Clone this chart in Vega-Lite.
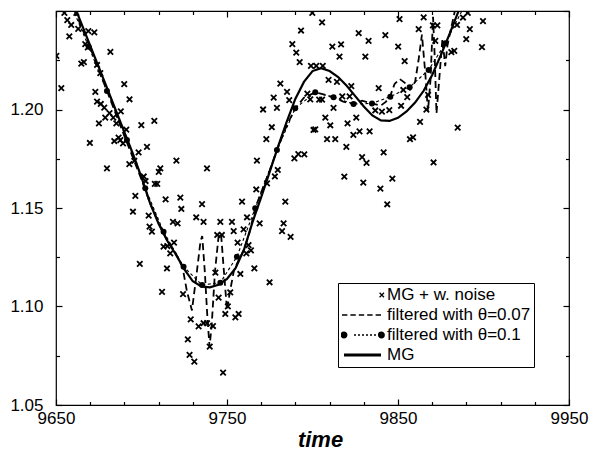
{
  "$schema": "https://vega.github.io/schema/vega-lite/v6.json",
  "width": 513,
  "height": 394,
  "autosize": {"type": "none"},
  "padding": {"left": 56, "top": 11, "right": 23, "bottom": 47},
  "background": "white",
  "config": {
    "view": {"stroke": "black", "strokeWidth": 1.2},
    "axis": {"domain": false, "grid": false, "tickColor": "black", "tickWidth": 1.2, "labelColor": "black", "labelFont": "Liberation Sans", "labelFontSize": 17, "labelFlush": false, "labelOverlap": false},
    "legend": {"labelFont": "Liberation Sans", "labelFontSize": 17, "labelColor": "black"}
  },
  "datasets": {
    "noise": [
      {"t":9654.9,"v":1.249},{"t":9661.9,"v":1.249},{"t":9656.6,"v":1.2454},{"t":9658.9,"v":1.2429},{"t":9663.0,"v":1.2409},{"t":9668.9,"v":1.2398},{"t":9672.4,"v":1.2391},{"t":9657.8,"v":1.2371},{"t":9667.1,"v":1.2332},{"t":9668.6,"v":1.2315},
      {"t":9650.2,"v":1.2272},{"t":9681.8,"v":1.2292},{"t":9664.8,"v":1.2233},{"t":9666.3,"v":1.2241},{"t":9674.0,"v":1.2226},{"t":9675.9,"v":1.2185},{"t":9653.1,"v":1.2109},{"t":9689.9,"v":1.2129},{"t":9673.0,"v":1.2089},{"t":9693.0,"v":1.2052},
      {"t":9674.0,"v":1.2040},{"t":9676.2,"v":1.2028},{"t":9678.2,"v":1.2009},{"t":9681.3,"v":1.1982},{"t":9678.8,"v":1.1959},{"t":9683.5,"v":1.1959},{"t":9687.9,"v":1.1991},{"t":9685.3,"v":1.1930},{"t":9675.1,"v":1.1930},{"t":9699.9,"v":1.1921},
      {"t":9707.5,"v":1.1942},{"t":9691.1,"v":1.1898},{"t":9686.6,"v":1.1857},{"t":9684.1,"v":1.1840},{"t":9687.6,"v":1.1845},{"t":9689.2,"v":1.1828},{"t":9669.8,"v":1.1830},{"t":9703.2,"v":1.1810},{"t":9698.3,"v":1.1782},{"t":9695.8,"v":1.1739},
      {"t":9692.9,"v":1.1723},{"t":9720.4,"v":1.1740},{"t":9679.8,"v":1.1701},{"t":9711.0,"v":1.1701},{"t":9710.1,"v":1.1683},{"t":9701.3,"v":1.1660},{"t":9702.4,"v":1.1637},{"t":9707.8,"v":1.1622},{"t":9709.2,"v":1.1622},{"t":9696.4,"v":1.1562},
      {"t":9714.1,"v":1.1544},{"t":9722.7,"v":1.1553},{"t":9723.3,"v":1.1495},{"t":9695.0,"v":1.1481},{"t":9735.4,"v":1.1520},{"t":9738.3,"v":1.1701},{"t":9704.2,"v":1.1461},{"t":9732.0,"v":1.1453},{"t":9736.3,"v":1.1430},{"t":9718.4,"v":1.1430},
      {"t":9721.1,"v":1.1422},{"t":9704.7,"v":1.1405},{"t":9706.1,"v":1.1380},{"t":9699.0,"v":1.1216},{"t":9712.9,"v":1.1304},{"t":9715.1,"v":1.1307},{"t":9719.0,"v":1.1324},{"t":9716.8,"v":1.1270},{"t":9714.9,"v":1.1193},{"t":9712.0,"v":1.1074},
      {"t":9724.3,"v":1.1063},{"t":9728.8,"v":1.0935},{"t":9727.1,"v":1.0833},{"t":9728.1,"v":1.0754},{"t":9730.9,"v":1.0720},{"t":9733.4,"v":1.0899},{"t":9736.3,"v":1.0915},{"t":9738.3,"v":1.0915},{"t":9741.8,"v":1.0901},{"t":9739.9,"v":1.0796},
      {"t":9743.2,"v":1.1172},{"t":9744.3,"v":1.1363},{"t":9747.0,"v":1.1363},{"t":9746.1,"v":1.1430},{"t":9752.9,"v":1.1430},{"t":9753.9,"v":1.1383},{"t":9758.8,"v":1.1532},{"t":9761.7,"v":1.1453},{"t":9759.7,"v":1.1392},{"t":9756.2,"v":1.1324},
      {"t":9762.6,"v":1.1312},{"t":9764.0,"v":1.1285},{"t":9761.3,"v":1.1270},{"t":9766.0,"v":1.1194},{"t":9757.8,"v":1.1165},{"t":9774.9,"v":1.1123},{"t":9751.9,"v":1.1072},{"t":9745.1,"v":1.1045},{"t":9750.5,"v":1.1001},{"t":9749.0,"v":1.0962},
      {"t":9756.8,"v":1.0962},{"t":9754.9,"v":1.0945},{"t":9747.7,"v":1.0664},{"t":9769.1,"v":1.1422},{"t":9783.1,"v":1.1422},{"t":9782.2,"v":1.1383},{"t":9787.2,"v":1.1353},{"t":9784.1,"v":1.1532},{"t":9767.5,"v":1.1740},{"t":9773.0,"v":1.1850},
      {"t":9776.2,"v":1.1910},{"t":9771.1,"v":1.2000},{"t":9777.3,"v":1.2060},{"t":9779.2,"v":1.2008},{"t":9781.2,"v":1.2131},{"t":9785.1,"v":1.2089},{"t":9786.4,"v":1.2048},{"t":9788.2,"v":1.2332},{"t":9790.5,"v":1.2289},{"t":9792.5,"v":1.2240},
      {"t":9793.3,"v":1.2401},{"t":9799.9,"v":1.249},{"t":9789.4,"v":1.1752},{"t":9791.7,"v":1.1773},{"t":9795.2,"v":1.1772},{"t":9779.7,"v":1.1693},{"t":9778.0,"v":1.1660},{"t":9773.4,"v":1.1625},{"t":9767.1,"v":1.1594},{"t":9797.0,"v":1.2081},
      {"t":9798.7,"v":1.2051},{"t":9800.6,"v":1.1896},{"t":9805.6,"v":1.2442},{"t":9799.1,"v":1.2221},{"t":9802.2,"v":1.2221},{"t":9806.0,"v":1.2221},{"t":9811.6,"v":1.2319},{"t":9816.7,"v":1.2331},{"t":9815.8,"v":1.2268},{"t":9827.0,"v":1.2388},
      {"t":9832.8,"v":1.2348},{"t":9830.9,"v":1.2268},{"t":9842.6,"v":1.2378},{"t":9850.9,"v":1.2459},{"t":9850.1,"v":1.2319},{"t":9853.9,"v":1.2246},{"t":9865.0,"v":1.2468},{"t":9862.1,"v":1.2408},{"t":9870.4,"v":1.2427},{"t":9873.0,"v":1.2427},
      {"t":9871.8,"v":1.2348},{"t":9809.4,"v":1.2150},{"t":9814.3,"v":1.2140},{"t":9822.7,"v":1.2119},{"t":9838.7,"v":1.2108},{"t":9803.9,"v":1.2050},{"t":9805.6,"v":1.2050},{"t":9817.4,"v":1.2067},{"t":9821.7,"v":1.2067},{"t":9812.3,"v":1.2008},
      {"t":9836.7,"v":1.1995},{"t":9840.6,"v":1.1989},{"t":9844.9,"v":1.1997},{"t":9851.8,"v":1.2019},{"t":9853.1,"v":1.2099},{"t":9855.4,"v":1.2063},{"t":9867.6,"v":1.2074},{"t":9866.6,"v":1.1999},{"t":9862.9,"v":1.1937},{"t":9807.5,"v":1.1959},
      {"t":9810.4,"v":1.1920},{"t":9801.6,"v":1.1899},{"t":9820.5,"v":1.1930},{"t":9825.6,"v":1.1959},{"t":9808.5,"v":1.1850},{"t":9813.3,"v":1.1850},{"t":9823.9,"v":1.1871},{"t":9827.5,"v":1.1889},{"t":9833.4,"v":1.1889},{"t":9819.8,"v":1.1810},
      {"t":9829.0,"v":1.1758},{"t":9831.6,"v":1.1729},{"t":9841.6,"v":1.1782},{"t":9857.0,"v":1.1849},{"t":9858.8,"v":1.1858},{"t":9870.8,"v":1.1731},{"t":9884.9,"v":1.1908},{"t":9818.6,"v":1.1659},{"t":9829.7,"v":1.1629},{"t":9846.7,"v":1.1649},
      {"t":9839.7,"v":1.1598},{"t":9843.7,"v":1.1519},{"t":9890.8,"v":1.249},{"t":9888.0,"v":1.2467},{"t":9899.7,"v":1.2449},{"t":9892.0,"v":1.2408},{"t":9889.9,"v":1.2357},{"t":9899.1,"v":1.2317},{"t":9882.9,"v":1.2298},{"t":9881.2,"v":1.2291},
      {"t":9884.5,"v":1.2429}
    ],
    "mg": [
      {"t":9658,"v":1.2585},{"t":9665,"v":1.2433},{"t":9670,"v":1.2324},{"t":9675,"v":1.2215},{"t":9680,"v":1.2106},{"t":9685,"v":1.1995},{"t":9690,"v":1.1885},{"t":9695,"v":1.1775},{"t":9700,"v":1.1655},{"t":9705,"v":1.1525},
      {"t":9710,"v":1.1420},{"t":9715,"v":1.1335},{"t":9720,"v":1.1265},{"t":9725,"v":1.1190},{"t":9730,"v":1.1128},{"t":9735,"v":1.1102},{"t":9740,"v":1.1097},{"t":9745,"v":1.1110},{"t":9750,"v":1.1140},{"t":9755,"v":1.1195},
      {"t":9760,"v":1.1290},{"t":9765,"v":1.1430},{"t":9770,"v":1.1555},{"t":9775,"v":1.1685},{"t":9780,"v":1.1815},{"t":9785,"v":1.1940},{"t":9790,"v":1.2055},{"t":9795,"v":1.2140},{"t":9800,"v":1.2195},{"t":9805,"v":1.2210},
      {"t":9810,"v":1.2195},{"t":9815,"v":1.2165},{"t":9820,"v":1.2120},{"t":9825,"v":1.2068},{"t":9830,"v":1.2015},{"t":9835,"v":1.1970},{"t":9840,"v":1.1945},{"t":9845,"v":1.1942},{"t":9850,"v":1.1958},{"t":9855,"v":1.1990},
      {"t":9860,"v":1.2035},{"t":9865,"v":1.2095},{"t":9870,"v":1.2175},{"t":9875,"v":1.2275},{"t":9880,"v":1.2380},{"t":9885,"v":1.2490},{"t":9890,"v":1.2600}
    ],
    "f07": [
      {"t":9658,"v":1.256},{"t":9670,"v":1.2315},{"t":9680,"v":1.209},{"t":9690,"v":1.1865},{"t":9700,"v":1.1645},{"t":9705,"v":1.1525},{"t":9710,"v":1.1425},{"t":9715,"v":1.1335},{"t":9720,"v":1.127},{"t":9724,"v":1.120},
      {"t":9726.5,"v":1.108},{"t":9729.5,"v":1.098},{"t":9732,"v":1.115},{"t":9734.5,"v":1.133},{"t":9735.5,"v":1.1358},{"t":9737,"v":1.118},{"t":9738.5,"v":1.095},{"t":9739.8,"v":1.0796},{"t":9741,"v":1.09},{"t":9743,"v":1.118},
      {"t":9745,"v":1.135},{"t":9746.5,"v":1.1372},{"t":9748,"v":1.12},{"t":9750,"v":1.0982},{"t":9751.9,"v":1.1084},{"t":9754,"v":1.118},{"t":9756,"v":1.122},{"t":9760,"v":1.129},{"t":9763,"v":1.137},{"t":9766.5,"v":1.1499},
      {"t":9770,"v":1.158},{"t":9775,"v":1.169},{"t":9779.2,"v":1.1794},{"t":9785,"v":1.192},{"t":9789.9,"v":1.2006},{"t":9795,"v":1.206},{"t":9801.6,"v":1.2087},{"t":9807,"v":1.2075},{"t":9812.3,"v":1.2062},{"t":9818,"v":1.204},
      {"t":9824,"v":1.2028},{"t":9829,"v":1.2045},{"t":9834.8,"v":1.2031},{"t":9840,"v":1.202},{"t":9843,"v":1.204},{"t":9845.5,"v":1.207},{"t":9848,"v":1.213},{"t":9851,"v":1.2155},{"t":9854,"v":1.2135},{"t":9857,"v":1.21},
      {"t":9860,"v":1.214},{"t":9862,"v":1.225},{"t":9864,"v":1.238},{"t":9866,"v":1.218},{"t":9867.5,"v":1.199},{"t":9869,"v":1.215},{"t":9870.5,"v":1.247},{"t":9871.5,"v":1.226},{"t":9872.5,"v":1.198},{"t":9874,"v":1.214},
      {"t":9876,"v":1.236},{"t":9877.6,"v":1.222},{"t":9879,"v":1.233},{"t":9882,"v":1.245},{"t":9884,"v":1.253}
    ],
    "f10": [
      {"t":9658.4,"v":1.254},{"t":9669.1,"v":1.2319},{"t":9679.8,"v":1.2094},{"t":9691.5,"v":1.1845},{"t":9702.2,"v":1.16},{"t":9712.9,"v":1.138},{"t":9724.6,"v":1.1202},{"t":9735.4,"v":1.1109},{"t":9746.1,"v":1.1121},{"t":9755.8,"v":1.1253},
      {"t":9766.5,"v":1.1499},{"t":9779.2,"v":1.1794},{"t":9789.9,"v":1.2006},{"t":9801.6,"v":1.2087},{"t":9812.3,"v":1.2062},{"t":9824,"v":1.2028},{"t":9834.8,"v":1.2031},{"t":9845.5,"v":1.2065},{"t":9856.8,"v":1.2113},{"t":9867.9,"v":1.2201},
      {"t":9877.7,"v":1.2336},{"t":9888.5,"v":1.252}
    ],
    "legend": [
      {"series":"MG + w. noise"},{"series":"filtered with θ=0.07"},{"series":"filtered with θ=0.1"},{"series":"MG"}
    ]
  },
  "resolve": {"axis": {"x": "independent", "y": "independent"}},
  "layer": [
    {
      "data": {"name": "noise"},
      "mark": {"type": "point", "shape": "M-1,-1L1,1M-1,1L1,-1", "size": 30, "filled": false, "stroke": "black", "strokeWidth": 1.8, "opacity": 1, "clip": true},
      "encoding": {
        "x": {"field": "t", "type": "quantitative", "scale": {"domain": [9650, 9950], "nice": false, "zero": false},
          "axis": {"orient": "bottom", "values": [9650, 9750, 9850, 9950], "format": "d", "ticks": false, "labelPadding": 5,
            "title": "time", "titleFont": "Liberation Sans", "titleFontSize": 22, "titleFontWeight": "bold", "titleFontStyle": "italic", "titleColor": "black",
            "titleX": 264, "titleY": 41, "titleBaseline": "alphabetic", "titleAlign": "center"}},
        "y": {"field": "v", "type": "quantitative", "scale": {"domain": [1.05, 1.25], "nice": false, "zero": false},
          "axis": {"orient": "left", "values": [1.05, 1.1, 1.15, 1.2], "format": ".2f", "ticks": false, "labelPadding": 13, "title": null}}
      }
    },
    {
      "data": {"name": "mg"},
      "mark": {"type": "line", "color": "black", "strokeWidth": 2.2, "clip": true},
      "encoding": {
        "x": {"field": "t", "type": "quantitative",
          "axis": {"orient": "bottom", "values": [9650, 9750, 9850, 9950], "labels": false, "ticks": true, "tickSize": 6, "offset": -6, "title": null}},
        "y": {"field": "v", "type": "quantitative",
          "axis": {"orient": "left", "values": [1.05, 1.1, 1.15, 1.2, 1.25], "labels": false, "ticks": true, "tickSize": 6, "offset": -6, "title": null}}
      }
    },
    {
      "data": {"name": "f07"},
      "mark": {"type": "line", "color": "black", "strokeWidth": 1.8, "strokeDash": [7, 4], "clip": true},
      "encoding": {
        "x": {"field": "t", "type": "quantitative",
          "axis": {"orient": "top", "values": [9650, 9750, 9850, 9950], "labels": false, "ticks": true, "tickSize": 6, "offset": -6, "title": null}},
        "y": {"field": "v", "type": "quantitative",
          "axis": {"orient": "right", "values": [1.05, 1.1, 1.15, 1.2, 1.25], "labels": false, "ticks": true, "tickSize": 6, "offset": -6, "title": null}}
      }
    },
    {
      "data": {"name": "f10"},
      "mark": {"type": "line", "color": "black", "strokeWidth": 1.1, "strokeDash": [3, 2.5], "clip": true},
      "encoding": {
        "x": {"field": "t", "type": "quantitative",
          "axis": {"orient": "top", "values": [9670, 9690, 9710, 9730, 9770, 9790, 9810, 9830, 9870, 9890, 9910, 9930], "labels": false, "ticks": true, "tickSize": 3.5, "offset": -3.5, "title": null}},
        "y": {"field": "v", "type": "quantitative",
          "axis": {"orient": "right", "values": [1.075, 1.125, 1.175, 1.225], "labels": false, "ticks": true, "tickSize": 3.5, "offset": -3.5, "title": null}}
      }
    },
    {
      "data": {"name": "f10"},
      "mark": {"type": "point", "shape": "circle", "filled": true, "color": "black", "size": 36, "opacity": 1, "clip": true},
      "encoding": {
        "x": {"field": "t", "type": "quantitative",
          "axis": {"orient": "bottom", "values": [9670, 9690, 9710, 9730, 9770, 9790, 9810, 9830, 9870, 9890, 9910, 9930], "labels": false, "ticks": true, "tickSize": 3.5, "offset": -3.5, "title": null}},
        "y": {"field": "v", "type": "quantitative",
          "axis": {"orient": "left", "values": [1.075, 1.125, 1.175, 1.225], "labels": false, "ticks": true, "tickSize": 3.5, "offset": -3.5, "title": null}}
      }
    },
    {
      "data": {"name": "legend"},
      "mark": {"type": "point", "filled": false, "color": "black", "strokeWidth": 1.3, "size": 1600, "opacity": 0},
      "encoding": {
        "shape": {"field": "series", "type": "nominal",
          "scale": {"domain": ["MG + w. noise", "filtered with θ=0.07", "filtered with θ=0.1", "MG"],
            "range": [
              "M0.88,-0.11L1.1,0.11M0.88,0.11L1.1,-0.11",
              "M-1,0H-0.73M-0.58,0H-0.31M-0.16,0H0.11M0.26,0H0.53M0.68,0H0.95",
              "M-1.04,0a0.14,0.14 0 1,0 0.28,0a0.14,0.14 0 1,0 -0.28,0M-0.99,0a0.09,0.09 0 1,0 0.18,0a0.09,0.09 0 1,0 -0.18,0M-0.94,0a0.04,0.04 0 1,0 0.08,0a0.04,0.04 0 1,0 -0.08,0M-0.4,0H-0.3M-0.2,0H-0.1M0,0H0.1M0.2,0H0.3M0.4,0H0.5M0.6,0H0.7M0.83,0a0.14,0.14 0 1,0 0.28,0a0.14,0.14 0 1,0 -0.28,0M0.88,0a0.09,0.09 0 1,0 0.18,0a0.09,0.09 0 1,0 -0.18,0M0.93,0a0.04,0.04 0 1,0 0.08,0a0.04,0.04 0 1,0 -0.08,0",
              "M-0.9,-0.04H0.95M-0.9,0.04H0.95M-0.9,0H0.95"
            ]},
          "legend": {"title": null, "orient": "none", "legendX": 282, "legendY": 272, "symbolSize": 1600, "clipHeight": 18, "rowPadding": 2,
            "labelOffset": 4, "padding": 3, "strokeColor": "black", "fillColor": "white", "cornerRadius": 0, "labelLimit": 300,
            "symbolStrokeColor": "black", "symbolStrokeWidth": 1.3, "symbolOpacity": 1,
            "encode": {"symbols": {"update": {"stroke": {"value": "black"}, "strokeWidth": {"value": 1.3}, "opacity": {"value": 1}}}}}}
      }
    }
  ]
}
